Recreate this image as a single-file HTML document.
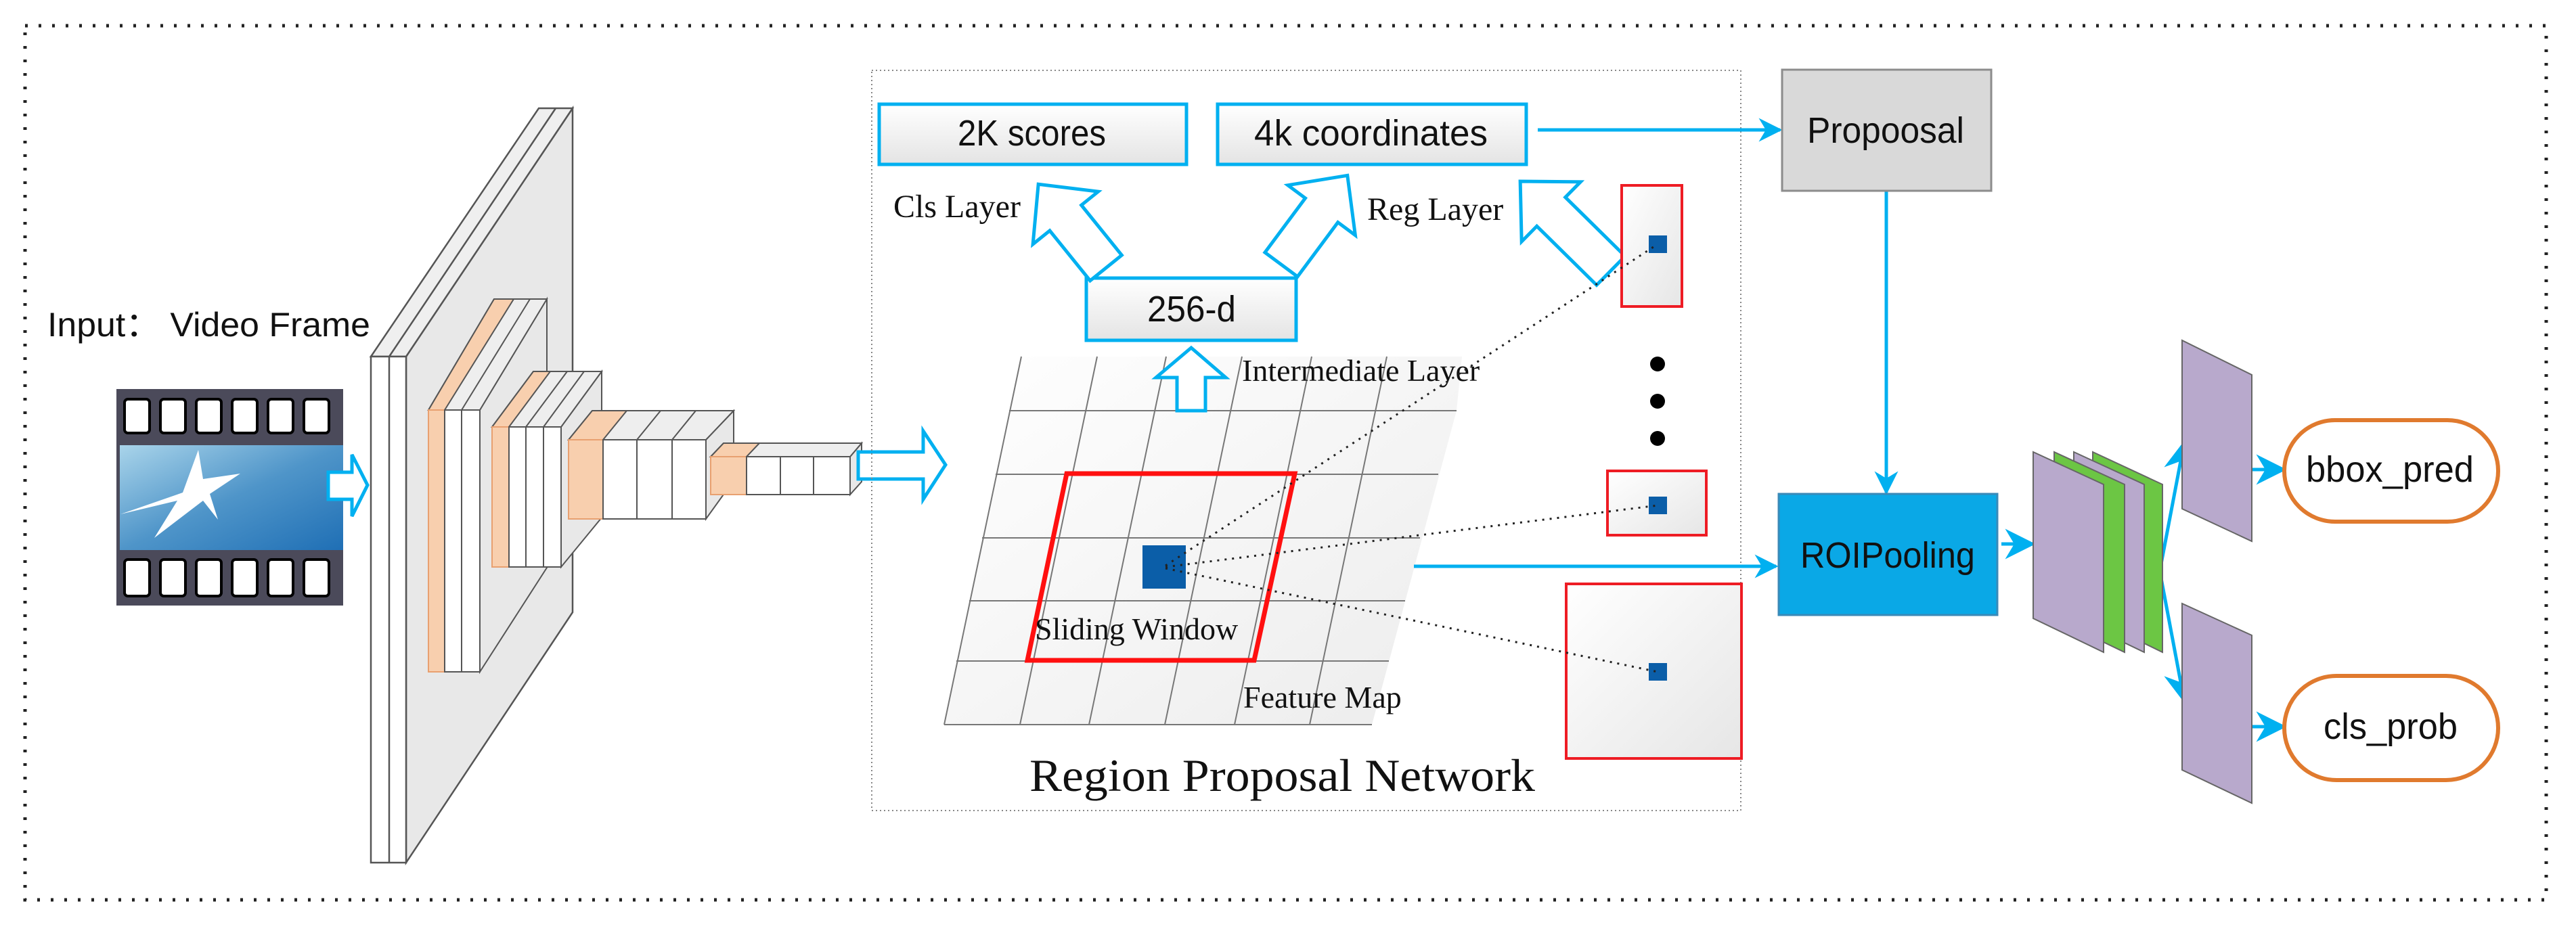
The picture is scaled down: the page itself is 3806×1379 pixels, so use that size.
<!DOCTYPE html>
<html><head><meta charset="utf-8"><style>html,body{margin:0;padding:0;background:#fff}svg{display:block}</style></head><body>
<svg width="3806" height="1379" viewBox="0 0 3806 1379" xmlns="http://www.w3.org/2000/svg">
<defs>
<linearGradient id="gbox" x1="0" y1="0" x2="0" y2="1"><stop offset="0" stop-color="#ffffff"/><stop offset="1" stop-color="#e4e4e4"/></linearGradient>
<linearGradient id="gred" x1="0" y1="0" x2="1" y2="1"><stop offset="0" stop-color="#ffffff"/><stop offset="1" stop-color="#e6e6e6"/></linearGradient>
<linearGradient id="gfilm" x1="0" y1="0" x2="1" y2="1"><stop offset="0" stop-color="#a9d4ea"/><stop offset="0.5" stop-color="#4f95c9"/><stop offset="1" stop-color="#1f6fb5"/></linearGradient>
<linearGradient id="ggrid" x1="0" y1="0" x2="1" y2="1"><stop offset="0" stop-color="#ffffff"/><stop offset="1" stop-color="#ececec"/></linearGradient>
<marker id="ah" viewBox="0 0 10 10" refX="9" refY="5" markerWidth="7" markerHeight="7" markerUnits="strokeWidth" orient="auto"><path d="M0,0 L10,5 L0,10 L3,5 z" fill="#00b0f0"/></marker>
<marker id="ahs" viewBox="0 0 10 10" refX="9" refY="5" markerWidth="9" markerHeight="9" markerUnits="strokeWidth" orient="auto"><path d="M0,0 L10,5 L0,10 L3,5 z" fill="#00b0f0"/></marker>
</defs>

<rect x="37" y="38" width="3725" height="1292" fill="none" stroke="#222" stroke-width="5" stroke-dasharray="4 16"/>

<text x="70" y="497" font-family="Liberation Sans, Noto Sans CJK SC, sans-serif" font-size="50" fill="#111" textLength="477" lengthAdjust="spacingAndGlyphs">Input：  Video Frame</text>

<rect x="172" y="575" width="335" height="320" fill="#4b4a5a"/>
<rect x="177" y="658" width="330" height="155" fill="url(#gfilm)"/>
<g fill="#fff" stroke="#000" stroke-width="4">
<rect x="184" y="590" width="37" height="50" rx="5"/><rect x="237" y="590" width="37" height="50" rx="5"/><rect x="290" y="590" width="37" height="50" rx="5"/><rect x="343" y="590" width="37" height="50" rx="5"/><rect x="396" y="590" width="37" height="50" rx="5"/><rect x="449" y="590" width="37" height="50" rx="5"/>
<rect x="184" y="827" width="37" height="54" rx="5"/><rect x="237" y="827" width="37" height="54" rx="5"/><rect x="290" y="827" width="37" height="54" rx="5"/><rect x="343" y="827" width="37" height="54" rx="5"/><rect x="396" y="827" width="37" height="54" rx="5"/><rect x="449" y="827" width="37" height="54" rx="5"/>
</g>
<polygon points="293,665 270,728 178,760 262,740 228,795 300,740 322,768 310,730 355,700 300,708" fill="#fff"/>
<polygon points="485,698 520,698 520,672 543,717 520,763 520,738 485,738" fill="#fff" stroke="#00b0f0" stroke-width="5"/>

<g stroke="#555" stroke-width="2.5">
<polygon points="600,527 846,160 846,905 600,1275" fill="#e8e8e8"/>
<polygon points="548,527 796,160 846,160 600,527" fill="#efefef"/>
<line x1="575" y1="527" x2="821" y2="160"/>
<rect x="548" y="527" width="52" height="748" fill="#fff"/>
<line x1="575" y1="527" x2="575" y2="1275"/>
</g>
<g stroke="#555" stroke-width="2">
<polygon points="709,606 808,442 808,839 709,993" fill="#e8e8e8"/>
<polygon points="633,606 730,442 808,442 709,606" fill="#eeeeee"/>
<polygon points="633,606 730,442 759,442 657,606" fill="#f8cfae"/>
<line x1="682" y1="606" x2="783" y2="442"/>
<rect x="633" y="606" width="24" height="387" fill="#f8cfae" stroke="#e8a070"/>
<rect x="657" y="606" width="25" height="387" fill="#fff"/>
<rect x="682" y="606" width="27" height="387" fill="#fff"/>
</g>
<g stroke="#555" stroke-width="2">
<polygon points="829,631 889,549 889,765 829,838" fill="#e8e8e8"/>
<polygon points="727,631 788,549 889,549 829,631" fill="#eeeeee"/>
<polygon points="727,631 788,549 813,549 752,631" fill="#f8cfae"/>
<line x1="777" y1="631" x2="838" y2="549"/><line x1="803" y1="631" x2="863" y2="549"/>
<rect x="727" y="631" width="25" height="207" fill="#f8cfae" stroke="#e8a070"/>
<rect x="752" y="631" width="25" height="207" fill="#fff"/>
<rect x="777" y="631" width="26" height="207" fill="#fff"/>
<rect x="803" y="631" width="26" height="207" fill="#fff"/>
</g>
<g stroke="#555" stroke-width="2">
<polygon points="1043,650 1084,607 1084,710 1043,767" fill="#e8e8e8"/>
<polygon points="840,650 875,607 1084,607 1043,650" fill="#eeeeee"/>
<polygon points="840,650 875,607 926,607 891,650" fill="#f8cfae"/>
<line x1="941" y1="650" x2="976" y2="607"/><line x1="993" y1="650" x2="1028" y2="607"/>
<rect x="840" y="650" width="51" height="117" fill="#f8cfae" stroke="#e8a070"/>
<rect x="891" y="650" width="50" height="117" fill="#fff"/>
<rect x="941" y="650" width="52" height="117" fill="#fff"/>
<rect x="993" y="650" width="50" height="117" fill="#fff"/>
</g>
<g stroke="#555" stroke-width="2">
<polygon points="1256,675 1273,655 1273,712 1256,731" fill="#e8e8e8"/>
<polygon points="1050,675 1069,655 1273,655 1256,675" fill="#eeeeee"/>
<polygon points="1050,675 1069,655 1122,655 1103,675" fill="#f8cfae"/>
<rect x="1050" y="675" width="53" height="56" fill="#f8cfae" stroke="#e8a070"/>
<rect x="1103" y="675" width="50" height="56" fill="#fff"/>
<rect x="1153" y="675" width="49" height="56" fill="#fff"/>
<rect x="1202" y="675" width="54" height="56" fill="#fff"/>
</g>
<polygon points="1268,668 1364,668 1364,637 1397,687 1364,738 1364,708 1268,708" fill="#fff" stroke="#00b0f0" stroke-width="5"/>

<rect x="1288" y="104" width="1284" height="1094" fill="none" stroke="#888" stroke-width="2" stroke-dasharray="2 4"/>

<!-- feature map grid (drawn first) -->
<polygon points="1509,527 2160,527 2152,607 2027,1071 1395,1071" fill="url(#ggrid)"/>
<g stroke="#777" stroke-width="2">
<line x1="1491" y1="607" x2="2152" y2="607"/>
<line x1="1471" y1="701" x2="2125" y2="701"/>
<line x1="1451" y1="795" x2="2098" y2="795"/>
<line x1="1432" y1="888" x2="2076" y2="888"/>
<line x1="1413" y1="977" x2="2052" y2="977"/>
<line x1="1395" y1="1071" x2="2027" y2="1071"/>
<line x1="1509" y1="527" x2="1395" y2="1071"/>
<line x1="1621" y1="527" x2="1507" y2="1071"/>
<line x1="1723" y1="527" x2="1609" y2="1071"/>
<line x1="1835" y1="527" x2="1721" y2="1071"/>
<line x1="1938" y1="527" x2="1824" y2="1071"/>
<line x1="2049" y1="527" x2="1935" y2="1071"/>
</g>

<rect x="1299" y="154" width="454" height="89" fill="url(#gbox)" stroke="#00b0f0" stroke-width="5"/>
<text x="1415" y="215" font-family="Liberation Sans, sans-serif" font-size="54" fill="#111" textLength="219" lengthAdjust="spacingAndGlyphs">2K scores</text>
<rect x="1799" y="154" width="456" height="89" fill="url(#gbox)" stroke="#00b0f0" stroke-width="5"/>
<text x="1853" y="215" font-family="Liberation Sans, sans-serif" font-size="54" fill="#111" textLength="345" lengthAdjust="spacingAndGlyphs">4k coordinates</text>
<rect x="1605" y="411" width="310" height="92" fill="url(#gbox)" stroke="#00b0f0" stroke-width="5"/>
<text x="1695" y="475" font-family="Liberation Sans, sans-serif" font-size="54" fill="#111" textLength="131" lengthAdjust="spacingAndGlyphs">256-d</text>

<text x="1320" y="321" font-family="Liberation Serif, serif" font-size="48" fill="#111">Cls Layer</text>
<text x="2020" y="325" font-family="Liberation Serif, serif" font-size="48" fill="#111">Reg Layer</text>

<g fill="#fff" stroke="#00b0f0" stroke-width="5">
<polygon transform="translate(1634,396) rotate(-128.9)" points="0,-30 95,-30 95,-62 159,0 95,62 95,30 0,30"/>
<polygon transform="translate(1893,391) rotate(-53.4)" points="0,-30 100,-30 100,-62 164,0 100,62 100,30 0,30"/>
<polygon transform="translate(2380,400) rotate(-135.4)" points="0,-30 124,-30 124,-62 188,0 124,62 124,30 0,30"/>
<polygon points="1739,607 1739,558 1708,558 1760,514 1811,558 1781,558 1781,607"/>
</g>
<text x="1835" y="563" font-family="Liberation Serif, serif" font-size="46" fill="#111">Intermediate Layer</text>

<polygon points="1576,700 1913,700 1853,976 1518,976" fill="none" stroke="#ff1010" stroke-width="7"/>
<rect x="1688" y="806" width="64" height="64" fill="#0b5ea8"/>
<text x="1529" y="945" font-family="Liberation Serif, serif" font-size="46" fill="#111">Sliding Window</text>
<text x="1837" y="1046" font-family="Liberation Serif, serif" font-size="46" fill="#111">Feature Map</text>
<text x="1521" y="1169" font-family="Liberation Serif, serif" font-size="68" fill="#111" textLength="747" lengthAdjust="spacingAndGlyphs">Region Proposal Network</text>

<rect x="2396" y="274" width="89" height="179" fill="url(#gred)" stroke="#ee1c24" stroke-width="4"/>
<rect x="2436" y="348" width="27" height="26" fill="#0b5ea8"/>
<circle cx="2449" cy="538" r="11" fill="#000"/><circle cx="2449" cy="593" r="11" fill="#000"/><circle cx="2449" cy="648" r="11" fill="#000"/>
<rect x="2375" y="696" width="146" height="95" fill="url(#gred)" stroke="#ee1c24" stroke-width="4"/>
<rect x="2436" y="734" width="27" height="26" fill="#0b5ea8"/>
<rect x="2314" y="863" width="259" height="258" fill="url(#gred)" stroke="#ee1c24" stroke-width="4"/>
<rect x="2436" y="980" width="27" height="26" fill="#0b5ea8"/>
<g stroke="#222" stroke-width="3" stroke-dasharray="3 8" fill="none">
<line x1="1722" y1="836" x2="2449" y2="361"/>
<line x1="1722" y1="838" x2="2449" y2="747"/>
<line x1="1722" y1="840" x2="2449" y2="993"/>
</g>

<g stroke="#00b0f0" stroke-width="5" fill="none">
<line x1="2272" y1="192" x2="2630" y2="192" marker-end="url(#ah)"/>
<line x1="2787" y1="282" x2="2787" y2="728" marker-end="url(#ah)"/>
<line x1="2089" y1="837" x2="2624" y2="837" marker-end="url(#ah)"/>
<line x1="2957" y1="804" x2="3003" y2="804" marker-end="url(#ahs)"/>
<line x1="3191" y1="844" x2="3227" y2="655" marker-end="url(#ahs)"/>
<line x1="3191" y1="844" x2="3227" y2="1035" marker-end="url(#ahs)"/>
<line x1="3327" y1="694" x2="3374" y2="694" marker-end="url(#ahs)"/>
<line x1="3327" y1="1074" x2="3374" y2="1074" marker-end="url(#ahs)"/>
</g>

<rect x="2633" y="103" width="309" height="179" fill="#d9d9d9" stroke="#8c8c8c" stroke-width="3"/>
<text x="2670" y="211" font-family="Liberation Sans, sans-serif" font-size="54" fill="#111" textLength="232" lengthAdjust="spacingAndGlyphs">Propoosal</text>
<rect x="2628" y="730" width="323" height="179" fill="#0aa8e6" stroke="#3a8ab8" stroke-width="3"/>
<text x="2660" y="839" font-family="Liberation Sans, sans-serif" font-size="54" fill="#111" textLength="258" lengthAdjust="spacingAndGlyphs">ROIPooling</text>

<g stroke="#666" stroke-width="2">
<polygon points="3092,668 3195,716 3195,964 3092,914" fill="#6cc644"/>
<polygon points="3064,668 3168,716 3168,964 3064,914" fill="#b8a9cc"/>
<polygon points="3035,668 3139,716 3139,964 3035,914" fill="#6cc644"/>
<polygon points="3004,668 3108,716 3108,964 3004,914" fill="#b8a9cc"/>
<polygon points="3224,503 3327,554 3327,800 3224,752" fill="#b8a9cc"/>
<polygon points="3224,892 3327,939 3327,1187 3224,1138" fill="#b8a9cc"/>
</g>

<rect x="3375" y="621" width="316" height="150" rx="75" fill="#fff" stroke="#e07a2e" stroke-width="6"/>
<text x="3407" y="712" font-family="Liberation Sans, sans-serif" font-size="54" fill="#111" textLength="248" lengthAdjust="spacingAndGlyphs">bbox_pred</text>
<rect x="3375" y="999" width="316" height="154" rx="77" fill="#fff" stroke="#e07a2e" stroke-width="6"/>
<text x="3433" y="1092" font-family="Liberation Sans, sans-serif" font-size="54" fill="#111" textLength="198" lengthAdjust="spacingAndGlyphs">cls_prob</text>
</svg>
</body></html>
